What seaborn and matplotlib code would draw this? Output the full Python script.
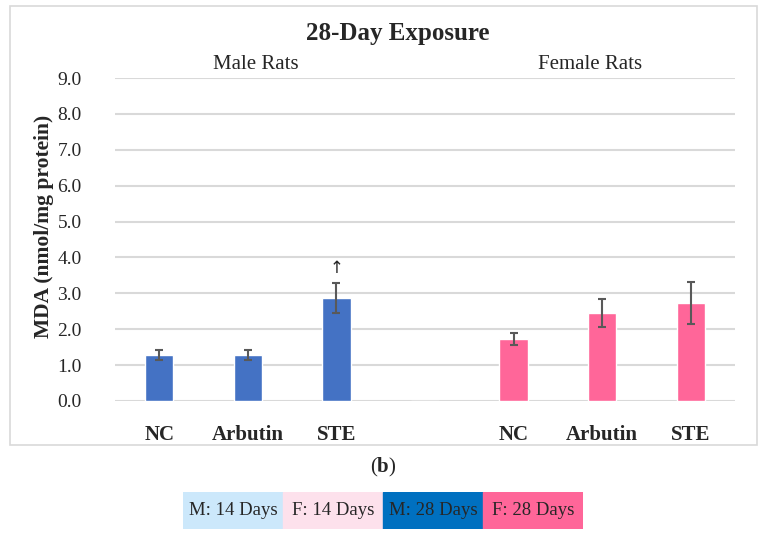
import pandas as pd
import matplotlib.pyplot as plt
import seaborn as sns
from matplotlib.patches import Rectangle

# data
slots = ["M-NC", "M-Arbutin", "M-STE", "gap", "F-NC", "F-Arbutin", "F-STE"]
tick_labels = ["NC", "Arbutin", "STE", "", "NC", "Arbutin", "STE"]
groups = ["Male", "Male", "Male", "Male", "Female", "Female", "Female"]
mda = [1.28, 1.28, 2.86, 0.0, 1.73, 2.45, 2.73]
mda_err = [0.15, 0.15, 0.42, 0.0, 0.17, 0.40, 0.59]

legend_labels = ["M: 14 Days", "F: 14 Days", "M: 28 Days", "F: 28 Days"]
legend_colors = ["#CCE8FB", "#FDE1EC", "#0070C0", "#FF6699"]

df = pd.DataFrame({"slot": slots, "mda": mda, "err": mda_err, "group": groups})

sns.set_style("white")
plt.rcParams["font.family"] = ["Liberation Serif", "DejaVu Serif"]
plt.rcParams["mathtext.fontset"] = "custom"
plt.rcParams["mathtext.rm"] = "Liberation Serif"
plt.rcParams["mathtext.bf"] = "Liberation Serif:bold"

fig = plt.figure(figsize=(7.68, 5.37), dpi=100)
ax = fig.add_axes([0.1497, 0.2533, 0.8073, 0.6014])

sns.barplot(data=df, x="slot", y="mda", hue="group", order=slots,
            palette={"Male": "#4472C4", "Female": "#FF6699"},
            dodge=False, width=0.32, saturation=1, legend=False, ax=ax)

real = df[df["slot"] != "gap"]
xpos = [slots.index(s) for s in real["slot"]]
ax.errorbar(xpos, real["mda"], yerr=real["err"], fmt="none",
            ecolor="#595959", elinewidth=1.5, capsize=3, capthick=1.5)

ax.text(slots.index("M-STE"), 3.45, "\u2191", ha="center", va="bottom",
        fontsize=12, family=["DejaVu Sans"])

ax.set_ylim(0, 9)
ax.set_yticks(range(0, 10))
ax.set_yticklabels([f"{v:.1f}" for v in range(0, 10)], fontsize=14)
ax.set_xlim(-0.5, len(slots) - 0.5)
ax.set_xticks(range(len(slots)))
ax.set_xticklabels(tick_labels, fontsize=15, fontweight="bold")
ax.tick_params(axis="x", length=0, pad=17)
ax.tick_params(axis="y", length=0, pad=24)
ax.yaxis.grid(True, color="#D9D9D9", linewidth=1.5)
ax.set_axisbelow(True)
for s in ax.spines.values():
    s.set_visible(False)
ax.set_xlabel("")
ax.set_ylabel("MDA (nmol/mg protein)", fontsize=15.5, fontweight="bold")
ax.yaxis.set_label_coords(-0.098, 0.542)

fig.text(0.518, 0.938, "28-Day Exposure", ha="center", va="center",
         fontsize=18, fontweight="bold")
fig.text(0.333, 0.879, "Male Rats", ha="center", va="center", fontsize=15)
fig.text(0.768, 0.879, "Female Rats", ha="center", va="center", fontsize=15)

# outer chart frame
fig.patches.append(Rectangle((0.013, 0.171), 0.973, 0.818, transform=fig.transFigure,
                             fill=False, edgecolor="#D9D9D9", linewidth=1.2))

fig.text(0.499, 0.130, r"($\mathbf{b}$)", ha="center", va="center", fontsize=15)

# colour key strip under the chart
lax = fig.add_axes([183 / 768, 1 - 529 / 537, 400 / 768, 37 / 537])
for i, (lab, col) in enumerate(zip(legend_labels, legend_colors)):
    lax.axvspan(i, i + 1, color=col)
    lax.text(i + 0.5, 0.5, lab, ha="center", va="center", fontsize=13.5)
lax.set_xlim(0, len(legend_labels))
lax.set_ylim(0, 1)
lax.axis("off")

fig.savefig("out.png", dpi=100)
